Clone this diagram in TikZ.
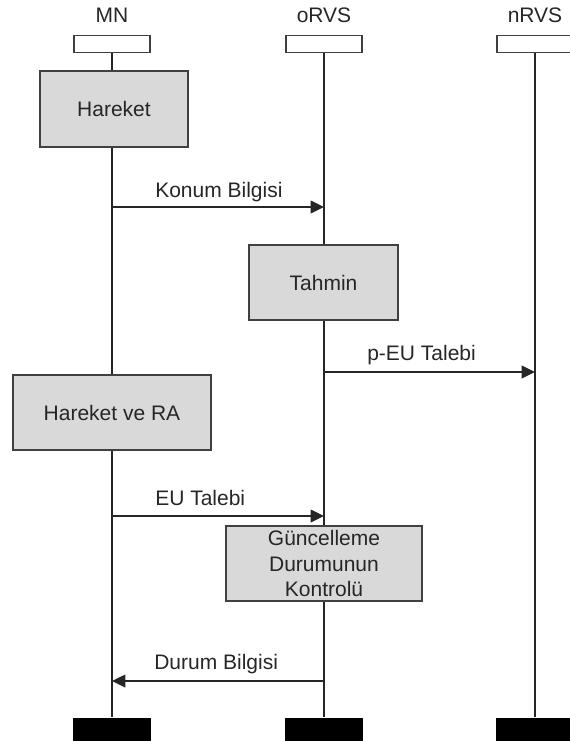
\documentclass[tikz,border=0pt]{standalone}
\usepackage{fontspec}
\setmainfont{Liberation Sans}
\usetikzlibrary{arrows.meta}
\begin{document}
\begin{tikzpicture}[x=0.75pt,y=-0.75pt,
  every node/.style={font=\fontsize{15.75}{19.2}\selectfont, text=black!85},
  head/.style={draw=black!75, line width=1.1pt, fill=white, minimum width=57pt, minimum height=13pt, inner sep=0},
  foot/.style={fill=black, minimum width=58pt, minimum height=20pt, inner sep=0},
  act/.style={draw=black!75, line width=1.1pt, fill=black!15, inner sep=0, align=center},
  life/.style={line width=1.1pt, black!85},
  msg/.style={line width=1.1pt, black!85, -{Triangle[length=10pt,width=9.5pt]}},
  lbl/.style={anchor=west, inner sep=0}]
\useasboundingbox (0,0) rectangle (570,741);
\clip (0,0) rectangle (570,741);

% participants
\node (tMN) at (112,15) {MN};
\node (tO)  at (324,15) {oRVS};
\node (tN)  at (535,15) {nRVS};
\node[head] (hMN) at (112,44) {};
\node[head] (hO)  at (324,44) {};
\node[head] (hN)  at (535,44) {};
\node[foot] (fMN) at (112,731) {};
\node[foot] (fO)  at (324,731) {};
\node[foot] (fN)  at (535,731) {};

% lifelines
\draw[life] (hMN.south) -- (fMN.north);
\draw[life] (hO.south) -- (fO.north);
\draw[life] (hN.south) -- (fN.north);

% activity boxes
\node[act, minimum width=111pt, minimum height=57pt] (hareket) at (114,109) {Hareket};
\node[act, minimum width=112pt, minimum height=56pt] (tahmin) at (323.5,282.5) {Tahmin};
\node[act, minimum width=148.5pt, minimum height=56pt] (hra) at (112,412.5) {Hareket ve RA};
\node[act, minimum width=147pt, minimum height=56pt] (guncel) at (324,563.5) {Güncelleme\\Durumunun\\Kontrolü};

% messages
\coordinate (m1a) at (112,207);
\coordinate (m1b) at (324,207);
\draw[msg] (m1a) -- (m1b);
\node[lbl] (l1) at (155,192) {Konum Bilgisi};

\coordinate (m2a) at (324,372);
\coordinate (m2b) at (535,372);
\draw[msg] (m2a) -- (m2b);
\node[lbl] (l2) at (367,355) {p-EU Talebi};

\coordinate (m3a) at (112,516);
\coordinate (m3b) at (324,516);
\draw[msg] (m3a) -- (m3b);
\node[lbl] (l3) at (155,498) {EU Talebi};

\coordinate (m4a) at (324,681);
\coordinate (m4b) at (112,681);
\draw[msg] (m4a) -- (m4b);
\node[lbl] (l4) at (154,664) {Durum Bilgisi};
\end{tikzpicture}
\end{document}
